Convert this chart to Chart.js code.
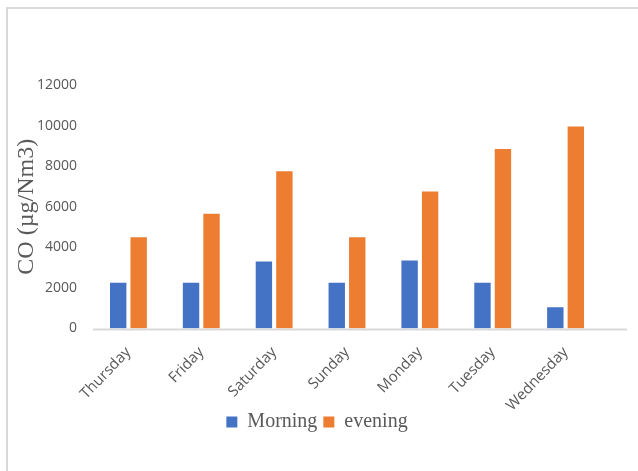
<!DOCTYPE html>
<html>
<head>
<meta charset="utf-8">
<script src="https://cdn.jsdelivr.net/npm/chart.js@4.4.1/dist/chart.umd.min.js"></script>
<style>
  html, body { margin: 0; padding: 0; background: #ffffff; }
  #wrap { position: relative; width: 638px; height: 471px; overflow: hidden; }
  #frame { position: absolute; left: 6px; top: 7px; width: 700px; height: 500px;
           border-top: 2px solid #d9d9d9; border-left: 2px solid #d9d9d9; }
  canvas { position: absolute; left: 0; top: 0; }
</style>
</head>
<body>
<div id="wrap">
  <div id="frame"></div>
  <canvas id="c" width="638" height="471"></canvas>
</div>
<script>
const categories = ['Thursday', 'Friday', 'Saturday', 'Sunday', 'Monday', 'Tuesday', 'Wednesday'];
const morning = [2250, 2250, 3300, 2250, 3350, 2250, 1050];
const evening = [4500, 5650, 7750, 4500, 6750, 8850, 9950];
const yMin = 0, yMax = 12000, yStep = 2000;
const seriesNames = ['Morning', 'evening'];
const yTitle = 'CO (\u00b5g/Nm3)';

const baseline = {
  id: 'baseline',
  afterLayout(chart) {
    const l = chart.legend;
    if (l) {
      const h = l.bottom - l.top;
      l.top = 406;
      l.bottom = 406 + h;
      l.left += 16;
      l.right += 16;
    }
  },
  afterDatasetsDraw(chart) {
    const {ctx, chartArea} = chart;
    const y = chart.scales.y.getPixelForValue(0);
    ctx.save();
    ctx.strokeStyle = '#d9d9d9';
    ctx.lineWidth = 2;
    ctx.beginPath();
    ctx.moveTo(chartArea.left + 1, y + 1);
    ctx.lineTo(chartArea.right + 25, y + 1);
    ctx.stroke();
    ctx.restore();
  }
};

new Chart(document.getElementById('c'), {
  type: 'bar',
  data: {
    labels: categories,
    datasets: [
      { label: seriesNames[0], data: morning, backgroundColor: '#4472C4' },
      { label: seriesNames[1], data: evening, backgroundColor: '#ED7D31' }
    ]
  },
  options: {
    responsive: false,
    animation: false,
    devicePixelRatio: 1,
    categoryPercentage: 0.5625,
    barPercentage: 0.8,
    layout: { padding: { left: 0, right: 36, top: 85, bottom: 0 } },
    plugins: {
      tooltip: { enabled: false },
      legend: {
        position: 'bottom',
        labels: {
          boxWidth: 11, boxHeight: 11, padding: 6,
          color: '#595959',
          font: { family: '"Liberation Serif", "Times New Roman", serif', size: 20 }
        }
      }
    },
    scales: {
      x: {
        grid: { display: false, drawTicks: false },
        border: { display: false },
        ticks: {
          color: '#595959', padding: 15,
          minRotation: 46, maxRotation: 46,
          font: { family: '"Open Sans", sans-serif', size: 15 }
        },
        afterFit(s) { s.height = 471 - 328.5 - 36; }
      },
      y: {
        min: yMin, max: yMax,
        grid: { display: false, drawTicks: false },
        border: { display: false },
        ticks: {
          stepSize: yStep, color: '#595959', padding: 15,
          font: { family: '"Open Sans", sans-serif', size: 14 },
          callback: (v) => String(v)
        },
        title: {
          display: true, text: yTitle, color: '#595959',
          padding: { top: 12, bottom: 0 },
          font: { family: '"Liberation Serif", "Times New Roman", serif', size: 24 }
        },
        afterFit(s) { s.width = 92; }
      }
    }
  },
  plugins: [baseline]
});
</script>
</body>
</html>
